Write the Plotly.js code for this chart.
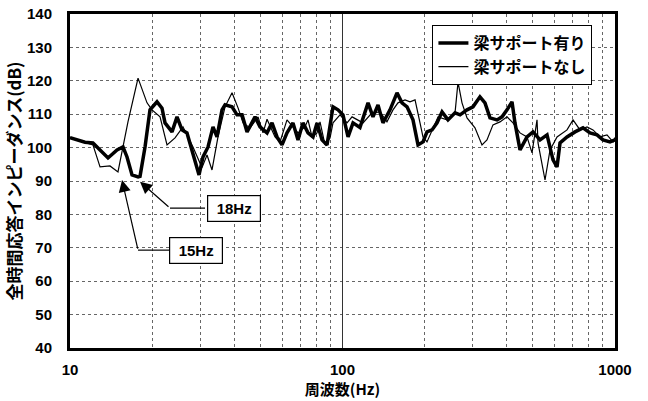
<!DOCTYPE html>
<html><head><meta charset="utf-8">
<script src="https://cdn.plot.ly/plotly-3.0.1.min.js"></script>
<style>html,body{margin:0;padding:0;background:#fff;}#chart{width:648px;height:401px;}</style>
</head><body><div id="chart"></div>
<script>
// 梁サポート有り (thick)
const freqWith = [10, 11.35, 12.14, 13.79, 14.88, 15.65, 16.19, 16.89, 17.77, 18.07, 18.85, 19.66, 20.86, 21.76, 22.32, 23.68, 24.70, 25.76, 26.87, 28.27, 29.75, 30.77, 32.10, 33.48, 34.63, 36.13, 37.06, 39.32, 41.02, 42.80, 44.64, 47.76, 49.81, 52.85, 55.12, 57.50, 59.98, 62.56, 65.81, 68.66, 71.61, 74.71, 77.94, 80.63, 84.10, 87.74, 92.29, 96.27, 100.4, 104.8, 109.3, 115.9, 124.1, 129.4, 135.0, 140.8, 149.4, 158.5, 165.3, 172.5, 181.4, 189.3, 197.4, 204.2, 213.1, 222.3, 231.9, 243.9, 258.8, 270.0, 286.4, 301.2, 319.5, 333.3, 347.7, 369.0, 384.9, 401.6, 418.8, 429.5, 440.6, 448.1, 475.4, 500.2, 530.7, 563.1, 592.3, 612.7, 628.4, 666.7, 713.3, 763.0, 809.6, 858.9, 903.6, 958.6, 1000];
const valWith = [103.0, 101.6, 101.4, 96.9, 99.3, 100.2, 97.2, 91.8, 91.2, 91.4, 100.2, 111.3, 113.7, 111.8, 107.4, 104.7, 109.2, 105.3, 104.4, 98.4, 91.8, 97.2, 100.2, 106.2, 103.2, 111.3, 112.8, 112.2, 109.8, 109.8, 104.7, 109.2, 106.2, 104.4, 107.4, 103.2, 100.8, 104.4, 107.4, 102.3, 107.4, 104.4, 103.2, 107.4, 102.3, 100.8, 112.2, 111.3, 109.8, 103.2, 107.4, 106.0, 113.4, 109.2, 112.8, 107.4, 111.3, 116.4, 113.4, 112.2, 108.3, 100.8, 101.7, 104.7, 105.3, 107.4, 110.7, 108.3, 110.4, 109.8, 111.3, 112.2, 115.2, 113.4, 108.9, 108.3, 109.2, 111.3, 113.7, 107.4, 103.2, 99.3, 103.2, 104.7, 102.3, 103.8, 96.3, 94.2, 101.4, 103.2, 104.7, 105.9, 104.4, 103.8, 102.3, 101.7, 102.3];

// 梁サポートなし (thin)
const freqWithout = [10, 11.35, 12.14, 12.89, 14.02, 15.00, 15.65, 16.32, 17.77, 19.17, 20.00, 21.40, 22.70, 24.29, 25.98, 28.27, 30.51, 31.83, 33.20, 34.92, 37.06, 39.32, 41.37, 43.16, 45.79, 48.98, 51.09, 52.85, 56.54, 58.98, 62.56, 65.81, 68.66, 72.84, 74.71, 77.29, 80.63, 82.69, 86.27, 89.99, 92.29, 97.91, 103.9, 108.4, 113.0, 118.9, 128.3, 137.3, 145.6, 153.2, 159.8, 169.6, 176.9, 184.6, 192.5, 197.4, 204.2, 213.1, 224.2, 241.9, 258.8, 265.4, 274.5, 286.4, 306.3, 325.0, 339.0, 356.6, 378.4, 401.6, 422.4, 448.1, 475.4, 496.0, 517.4, 521.8, 553.6, 577.5, 612.7, 666.7, 701.4, 743.9, 789.3, 830.4, 881.0, 934.6, 983.3, 1000];
const valWithout = [103.0, 101.6, 100.8, 94.2, 94.5, 92.7, 99.9, 107.7, 120.8, 113.4, 111.3, 109.2, 100.8, 102.9, 106.2, 100.2, 94.0, 97.8, 93.3, 103.2, 112.2, 116.4, 111.9, 107.4, 105.9, 109.2, 104.4, 108.5, 103.2, 101.7, 108.3, 106.2, 104.4, 106.2, 108.3, 103.2, 104.4, 107.7, 100.8, 102.9, 107.4, 109.8, 107.4, 109.2, 108.3, 107.4, 110.4, 110.7, 107.7, 111.3, 113.4, 114.3, 113.7, 114.3, 107.4, 103.2, 101.7, 105.3, 109.2, 108.3, 110.4, 119.6, 113.4, 108.9, 105.9, 100.8, 102.3, 106.8, 107.7, 109.2, 107.4, 104.4, 103.2, 98.4, 108.3, 101.4, 90.3, 99.3, 103.2, 105.3, 108.3, 105.3, 106.2, 105.3, 103.2, 103.8, 101.7, 103.0];

// axis ticks
const gridVals = [10,20,30,40,50,60,70,80,90,100,200,300,400,500,600,700,800,900,1000];
const tickLabelVals = {10:'10', 100:'100', 1000:'1000'};
const yTicks = [40,50,60,70,80,90,100,110,120,130,140];

// callouts
const call18 = {label:'18Hz', tipF:18.07, tipV:89.8, bendF:23.28, bendV:81.9, edgeF:31.3, boxF:39.9};
const call15 = {label:'15Hz', tipF:15.52, tipV:90.3, bendF:17.77, bendV:69.3, edgeF:23.28, boxF:29.0};

const cjk = '"Noto Sans CJK JP", "Noto Sans", sans-serif';
const num = '"Liberation Sans Narrow", "Liberation Sans", Arial, sans-serif';

const traces = [
  {x:[100,100], y:[40,140], mode:'lines', line:{color:'#333', width:1}, showlegend:false, hoverinfo:'skip'},
  {x:[call18.bendF, call18.edgeF], y:[call18.bendV, call18.bendV], mode:'lines', line:{color:'#000', width:1.2}, showlegend:false, hoverinfo:'skip'},
  {x:[call15.bendF, call15.edgeF], y:[call15.bendV, call15.bendV], mode:'lines', line:{color:'#000', width:1.2}, showlegend:false, hoverinfo:'skip'},
  {x:freqWithout, y:valWithout, mode:'lines', name:'<b>梁サポートなし</b>', line:{color:'#000', width:1.2}},
  {x:freqWith, y:valWith, mode:'lines', name:'<b>梁サポート有り</b>', line:{color:'#000', width:3.5}}
];

function arrowAnn(c){
  return {x:Math.log10(c.tipF), y:c.tipV, ax:Math.log10(c.bendF), ay:c.bendV, axref:'x', ayref:'y', xref:'x', yref:'y',
    text:'', showarrow:true, arrowhead:2, arrowsize:2, arrowwidth:1.2, arrowcolor:'#000', standoff:0, startstandoff:0};
}
function boxAnn(c){
  return {x:Math.log10(c.boxF), y:c.bendV, xref:'x', yref:'y', text:'<b>'+c.label+'</b>', showarrow:false,
    font:{family:num, size:15, color:'#000'}, bordercolor:'#000', borderwidth:1.2, borderpad:4, bgcolor:'#fff', width:44};
}

const layout = {
  width:648, height:401,
  margin:{l:70, r:33, t:14, b:53},
  paper_bgcolor:'#fff', plot_bgcolor:'#fff',
  xaxis:{type:'log', range:[1,3], tickvals:gridVals, ticktext:gridVals.map(v=>tickLabelVals[v]?'<b>'+tickLabelVals[v]+'</b>':''),
    showgrid:true, gridcolor:'#666', gridwidth:1, griddash:'dot', zeroline:false,
    showline:true, linecolor:'#000', linewidth:3, mirror:true, ticks:'', ticklabelstandoff:6,
    tickfont:{family:num, size:15, color:'#000'},
    title:{text:'<b>周波数(Hz)</b>', font:{family:cjk, size:15, color:'#000'}, standoff:6}},
  yaxis:{range:[40,140], tickvals:yTicks, ticktext:yTicks.map(v=>'<b>'+v+'</b>'),
    showgrid:true, gridcolor:'#666', gridwidth:1, griddash:'dot', zeroline:false,
    showline:true, linecolor:'#000', linewidth:3, mirror:true, ticks:'', ticklabelstandoff:12,
    tickfont:{family:num, size:15, color:'#000'},
    title:{text:'<b>全時間応答インピーダンス(dB)</b>', font:{family:cjk, size:17, color:'#000'}, standoff:2}},
  legend:{x:0.665, y:0.967, xanchor:'left', yanchor:'top', bgcolor:'#fff', bordercolor:'#000', borderwidth:1,
    font:{family:cjk, size:16, color:'#000'}, traceorder:'reversed', itemwidth:30, tracegroupgap:0},
  annotations:[arrowAnn(call18), arrowAnn(call15), boxAnn(call18), boxAnn(call15)],
  showlegend:true
};

Plotly.newPlot('chart', traces, layout, {displayModeBar:false, staticPlot:true});
</script></body></html>
